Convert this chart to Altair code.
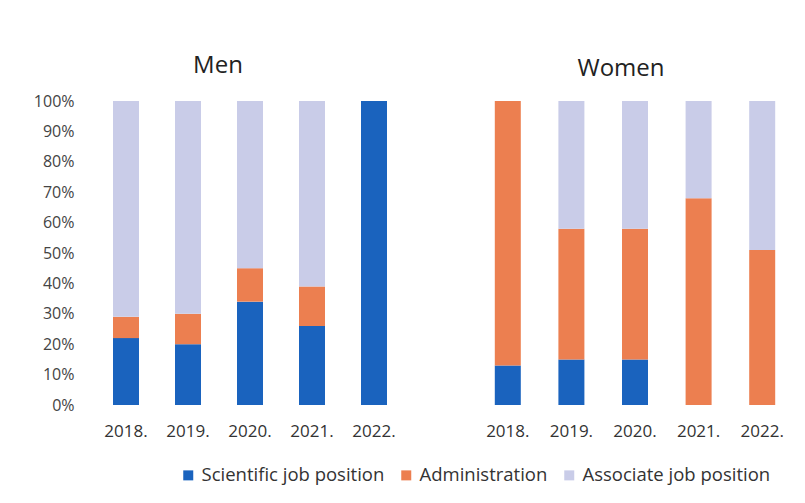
import altair as alt
import pandas as pd

years = ["2018", "2019", "2020", "2021", "2022"]
categories = ["Scientific job position", "Administration", "Associate job position"]
colors = ["#1A63BE", "#EC7F50", "#C9CCE8"]

men_scientific = [22, 20, 34, 26, 100]
men_admin = [7, 10, 11, 13, 0]
men_associate = [71, 70, 55, 61, 0]

women_scientific = [13, 15, 15, 0, 0]
women_admin = [87, 43, 43, 68, 51]
women_associate = [0, 42, 42, 32, 49]


def build(sci, adm, asc):
    rows = []
    for i, y in enumerate(years):
        for k, (cat, vals) in enumerate(zip(categories, [sci, adm, asc])):
            rows.append({"year": y, "category": cat, "value": vals[i], "order": k})
    return pd.DataFrame(rows)


men_df = build(men_scientific, men_admin, men_associate)
women_df = build(women_scientific, women_admin, women_associate)

FONT = "Open Sans"


def panel(df, title, dx, dy, show_y, width):
    y_axis = alt.Axis(
        format="%", values=[i / 10 for i in range(11)], grid=False, domain=False,
        ticks=False, labelFontSize=16, labelColor="#444", labelPadding=21, title=None,
        labelFont=FONT,
    ) if show_y else None
    return alt.Chart(df).mark_bar(size=26).encode(
        x=alt.X("year:N", sort=years, scale=alt.Scale(paddingInner=0.58, paddingOuter=0.29),
                axis=alt.Axis(title=None, labelAngle=0, domain=False, ticks=False,
                              labelFontSize=17, labelColor="#333", labelPadding=18,
                              labelFont=FONT, labelExpr="datum.label + '.'")),
        y=alt.Y("value:Q", stack="normalize", axis=y_axis,
                scale=alt.Scale(domain=[0, 1])),
        color=alt.Color("category:N", sort=categories,
                        scale=alt.Scale(domain=categories, range=colors),
                        legend=alt.Legend(title=None, orient="none", direction="horizontal",
                                          legendX=84, legendY=365, symbolType="square",
                                          symbolSize=100, symbolStrokeWidth=0,
                                          labelFontSize=18.5, labelColor="#333",
                                          labelFont=FONT, labelLimit=400, columnPadding=12,
                                          labelOffset=4)),
        order=alt.Order("order:Q"),
    ).properties(
        width=width, height=304,
        title=alt.TitleParams(title, fontSize=24, font=FONT, fontWeight="normal",
                              color="#222", dx=dx, dy=dy, offset=15),
    )


men = panel(men_df, "Men", -32, 0, True, 310)
women = panel(women_df, "Women", -14, -5, False, 318)

chart = alt.hconcat(men, women, spacing=71).properties(
    padding={"left": 25, "top": 46, "right": 0, "bottom": 5},
    background="white",
).configure_view(strokeWidth=0)

chart.save("out.html", embed_options={"renderer": "svg", "actions": False})
